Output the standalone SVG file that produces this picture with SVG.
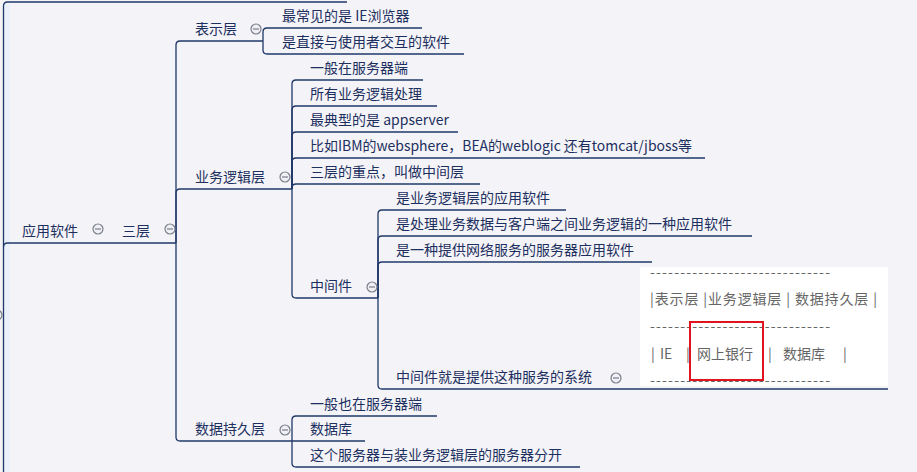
<svg xmlns="http://www.w3.org/2000/svg" width="917" height="472" viewBox="0 0 917 472">
<style>
.t{font-family:"Noto Sans CJK SC","Liberation Sans",sans-serif;font-size:14px;fill:#1c2f5e}
.n{font-family:"Noto Sans CJK SC","Liberation Sans",sans-serif;font-size:14px;fill:#666}
.c{fill:none;stroke:#1f3868;stroke-width:1.3}
.ic{fill:#f0f0f4;stroke:#7a7f8c;stroke-width:1.2}
.im{stroke:#7a7f8c;stroke-width:1.2}
</style>
<defs>
<g id="col"><circle class="ic" r="5"/><line class="im" x1="-3" y1="0" x2="3" y2="0"/></g>
</defs>
<rect width="917" height="472" fill="#f4f4f8"/>
<rect x="4" y="4" width="6" height="468" fill="#eaf1fb"/>
<g id="connectors">
<path class="c" d="M3.5,472 V6 Q3.5,2 7.5,2 H347"/>
<path class="c" d="M3.5,247 Q3.5,243 7.5,243 H176"/>
<path class="c" d="M176,243 V45 Q176,41 180,41 H263"/>
<path class="c" d="M176,243 V193 Q176,189 180,189 H292"/>
<path class="c" d="M176,243 V437 Q176,441 180,441 H292"/>
<path class="c" d="M263,41 V32 Q263,28 267,28 H422"/>
<path class="c" d="M263,41 V50 Q263,54 267,54 H464"/>
<path class="c" d="M292,189 V84 Q292,80 296,80 H423"/>
<path class="c" d="M292,189 V110 Q292,106 296,106 H437"/>
<path class="c" d="M292,189 V136 Q292,132 296,132 H458"/>
<path class="c" d="M292,189 V162 Q292,158 296,158 H705"/>
<path class="c" d="M292,189 V188 Q292,184 296,184 H480"/>
<path class="c" d="M292,189 V294 Q292,298 296,298 H378"/>
<path class="c" d="M378,298 V214 Q378,210 382,210 H566"/>
<path class="c" d="M378,298 V240 Q378,236 382,236 H752"/>
<path class="c" d="M378,298 V266 Q378,262 382,262 H652"/>
<path class="c" d="M378,298 V385 Q378,389 382,389 H888"/>
<path class="c" d="M292,441 V420 Q292,416 296,416 H437"/>
<path class="c" d="M292,441 H365"/>
<path class="c" d="M292,441 V463 Q292,467 296,467 H580"/>
<circle class="ic" cx="-3" cy="315" r="5"/>
</g>
<g id="n-yingyong"><text class="t" x="22" y="236">应用软件</text><use href="#col" x="98" y="229"/></g>
<g id="n-sanceng"><text class="t" x="122" y="236">三层</text><use href="#col" x="170" y="229"/></g>
<g id="n-biaoshi"><text class="t" x="195" y="34">表示层</text><use href="#col" x="256" y="29"/></g>
<g id="n-yewu"><text class="t" x="195" y="182">业务逻辑层</text><use href="#col" x="285" y="177"/></g>
<g id="n-shuju"><text class="t" x="195" y="434">数据持久层</text><use href="#col" x="285" y="430"/></g>
<g id="n-b1"><text class="t" x="282" y="21">最常见的是 IE浏览器</text></g>
<g id="n-b2"><text class="t" x="282" y="47">是直接与使用者交互的软件</text></g>
<g id="n-y1"><text class="t" x="310" y="73">一般在服务器端</text></g>
<g id="n-y2"><text class="t" x="310" y="99">所有业务逻辑处理</text></g>
<g id="n-y3"><text class="t" x="310" y="125">最典型的是 appserver</text></g>
<g id="n-y4"><text class="t" x="310" y="151" textLength="382" lengthAdjust="spacingAndGlyphs">比如IBM的websphere，BEA的weblogic 还有tomcat/jboss等</text></g>
<g id="n-y5"><text class="t" x="310" y="177">三层的重点，叫做中间层</text></g>
<g id="n-zjj"><text class="t" x="310" y="291">中间件</text><use href="#col" x="372" y="287"/></g>
<g id="n-z1"><text class="t" x="396" y="203">是业务逻辑层的应用软件</text></g>
<g id="n-z2"><text class="t" x="396" y="229">是处理业务数据与客户端之间业务逻辑的一种应用软件</text></g>
<g id="n-z3"><text class="t" x="396" y="255">是一种提供网络服务的服务器应用软件</text></g>
<g id="n-z4"><text class="t" x="396" y="382">中间件就是提供这种服务的系统</text><use href="#col" x="616" y="378"/>
<rect x="640" y="267" width="248" height="119" fill="#ffffff"/>
<text class="n" x="650" y="277" textLength="180" lengthAdjust="spacing">------------------------------</text>
<text class="n" x="650" y="304" textLength="227" lengthAdjust="spacing">|表示层 |业务逻辑层 | 数据持久层 |</text>
<text class="n" x="650" y="331" textLength="180" lengthAdjust="spacing">------------------------------</text>
<text class="n" x="651" y="359">|</text><text class="n" x="660" y="359">IE</text><text class="n" x="686" y="359">|</text><text class="n" x="697" y="359">网上银行</text><text class="n" x="768" y="359">|</text><text class="n" x="783" y="359">数据库</text><text class="n" x="843" y="359">|</text>
<text class="n" x="650" y="385" textLength="180" lengthAdjust="spacing">------------------------------</text>
<rect x="690" y="322" width="73" height="58" fill="none" stroke="#e0141e" stroke-width="2"/>
</g>
<g id="n-s1"><text class="t" x="310" y="409">一般也在服务器端</text></g>
<g id="n-s2"><text class="t" x="310" y="434">数据库</text></g>
<g id="n-s3"><text class="t" x="310" y="460">这个服务器与装业务逻辑层的服务器分开</text></g>
</svg>
